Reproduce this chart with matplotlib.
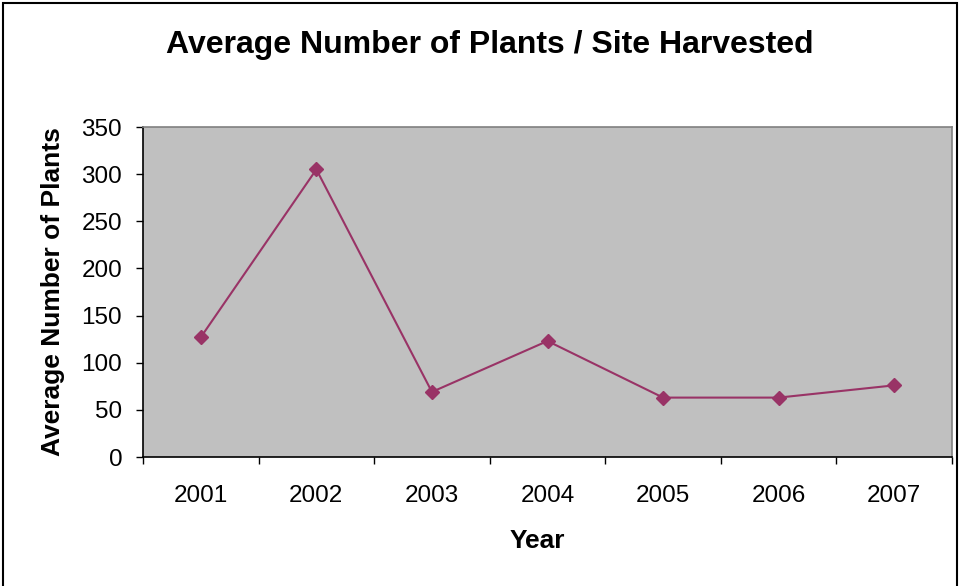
import matplotlib.pyplot as plt
from matplotlib.patches import Rectangle

plt.rcParams['font.family'] = ['Liberation Sans', 'DejaVu Sans']

years = ['2001', '2002', '2003', '2004', '2005', '2006', '2007']
avg_plants = [127, 305, 69, 123, 63, 63, 76]

fig = plt.figure(figsize=(9.6, 5.86), dpi=100)
ax = fig.add_axes([143 / 960, 1 - 457 / 586, 809 / 960, 330 / 586])

x = list(range(1, len(years) + 1))
ax.plot(x, avg_plants, color='#993366', lw=1.5, marker='D', markersize=7.5,
        markerfacecolor='#993366', markeredgecolor='#993366')

ax.set_facecolor('#c0c0c0')
ax.set_xlim(0.5, len(years) + 0.5)
ax.set_ylim(0, 350)
ax.set_yticks(range(0, 351, 50))

# categories sit between the tick marks
ax.set_xticks(x)
ax.set_xticklabels(years)
ax.set_xticks([i + 0.5 for i in range(len(years) + 1)], minor=True)
ax.tick_params(axis='x', which='major', length=0, pad=20, labelsize=17.5)
ax.tick_params(axis='x', which='minor', length=5, width=1, direction='out')
ax.tick_params(axis='y', length=5, width=1, direction='out', labelsize=17.5, pad=10)

for side in ['left', 'bottom']:
    ax.spines[side].set_color('black')
    ax.spines[side].set_linewidth(1.2)
for side in ['top', 'right']:
    ax.spines[side].set_color('#808080')
    ax.spines[side].set_linewidth(1.2)

ax.set_xlabel('Year', fontsize=19, fontweight='bold', labelpad=16)
ax.xaxis.label.set_x(0.488)
ax.set_ylabel('Average Number of Plants', fontsize=19, fontweight='bold', labelpad=12)
fig.text(490 / 960, 1 - 45 / 586, 'Average Number of Plants / Site Harvested',
         ha='center', va='center', fontsize=23, fontweight='bold')

# outer chart frame, open at the bottom edge
fig.patches.append(Rectangle((3 / 960, -0.05), 954 / 960, 1.05 - 3 / 586,
                             transform=fig.transFigure, fill=False,
                             edgecolor='black', linewidth=1.5))

fig.savefig('out.png', dpi=100)
